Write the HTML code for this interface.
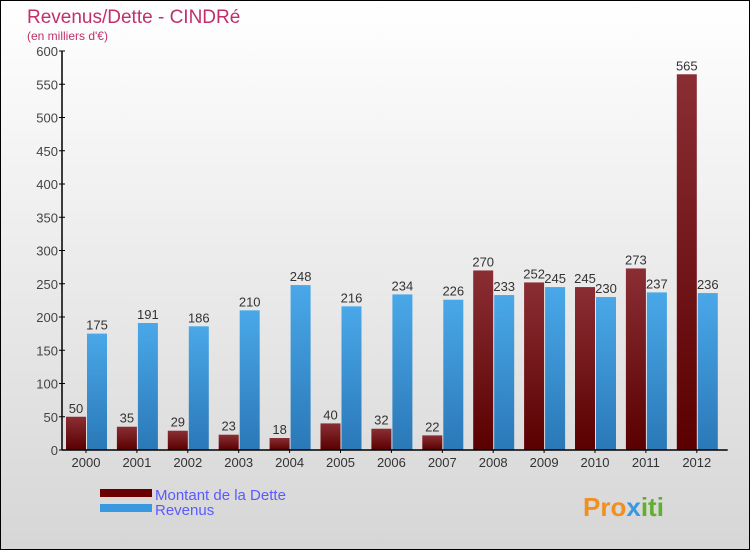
<!DOCTYPE html>
<html><head><meta charset="utf-8"><style>
body{margin:0;width:750px;height:550px;overflow:hidden;font-family:"Liberation Sans",sans-serif}
#wrap{position:relative;width:748px;height:548px;border:1px solid #000;background:linear-gradient(#ffffff,#d6d6d6)}
</style></head><body>
<div id="wrap">
<svg width="748" height="548" id="svg">
<defs>
<linearGradient id="gd" x1="0" y1="0" x2="0" y2="1"><stop offset="0" stop-color="#8a2e34"/><stop offset="1" stop-color="#5a0000"/></linearGradient>
<linearGradient id="gr" x1="0" y1="0" x2="0" y2="1"><stop offset="0" stop-color="#4aa8e8"/><stop offset="1" stop-color="#2a78b8"/></linearGradient>
</defs>
<text x="26" y="22" font-size="19" fill="#c0306a">Revenus/Dette - CINDRé</text>
<text x="26" y="39" font-size="12" fill="#c0306a">(en milliers d'€)</text>
<g id="plot"></g>
<rect x="99" y="488" width="52" height="8" fill="#6a0000"/>
<rect x="99" y="503" width="52" height="8" fill="#3a98e0"/>
<text x="154" y="499" font-size="15" fill="#5a5aff">Montant de la Dette</text>
<text x="154" y="514" font-size="15" fill="#5a5aff">Revenus</text>
<text x="582" y="515" font-size="26" font-weight="bold" fill="#f09020">Pro<tspan fill="#3a98e0">x</tspan><tspan fill="#60b030">iti</tspan></text>
</svg></div>
<script>
const years=["2000","2001","2002","2003","2004","2005","2006","2007","2008","2009","2010","2011","2012"];
const dette=[50,35,29,23,18,40,32,22,270,252,245,273,565];
const revenus=[175,191,186,210,248,216,234,226,233,245,230,237,236];
const yTicks=[0,50,100,150,200,250,300,350,400,450,500,550,600];
const NS="http://www.w3.org/2000/svg";
const g=document.getElementById('plot');
const x0=61,y0=449,ppu=399/600,step=50.9,bw=20;
const y=v=>y0-v*ppu;
function mk(t,a){const e=document.createElementNS(NS,t);for(const k in a)e.setAttribute(k,a[k]);g.appendChild(e);return e;}
yTicks.forEach(v=>{
 const l=mk('line',{x1:x0-3,x2:x0+3,y1:y(v),y2:y(v),stroke:'#000'});
 
 
 const t=mk('text',{x:x0-4,y:y(v)+5,'font-size':13,fill:'#444','text-anchor':'end'});t.textContent=v;
 
 
});
years.forEach((yr,i)=>{
 const gx=x0+4+i*step;
 const b1=mk('rect',{x:gx,y:y(dette[i]),width:bw,height:dette[i]*ppu,fill:'url(#gd)'});
 
 
 const b2=mk('rect',{x:gx+bw+1,y:y(revenus[i]),width:bw,height:revenus[i]*ppu,fill:'url(#gr)'});
 
 
 const t1=mk('text',{x:gx+bw/2,y:y(dette[i])-4,'font-size':13,fill:'#333','text-anchor':'middle'});t1.textContent=dette[i];
 
 
 const t2=mk('text',{x:gx+bw*1.5+1,y:y(revenus[i])-4,'font-size':13,fill:'#333','text-anchor':'middle'});t2.textContent=revenus[i];
 
 
 const xl=mk('text',{x:gx+bw,y:y0+17,'font-size':13,fill:'#333','text-anchor':'middle'});xl.textContent=yr;
 
 
 const tk=mk('line',{x1:gx+bw,x2:gx+bw,y1:y0,y2:y0+3,stroke:'#000'});
 
 
});
const ax=mk('line',{x1:x0,x2:x0,y1:y(600),y2:y0,stroke:'#000','stroke-width':1.5});


const bx=mk('line',{x1:x0,x2:x0+13*step+4,y1:y0,y2:y0,stroke:'#000','stroke-width':1.5});


</script>
</body></html>
